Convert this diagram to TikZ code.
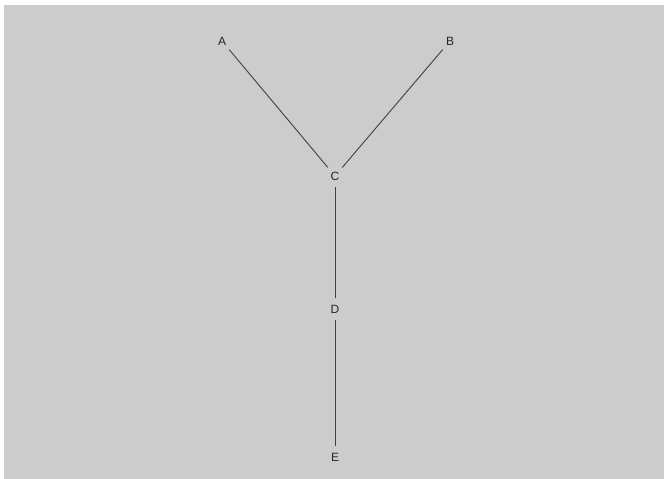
\documentclass[tikz,border=0pt]{standalone}
\usepackage{fontspec}
\setmainfont{Liberation Sans}
\begin{document}
\begin{tikzpicture}[x=1pt,y=-1pt,
  vertex/.style={circle,minimum size=22pt,inner sep=0pt,font=\fontsize{12}{14}\selectfont,text=black!85},
  edge/.style={draw=black!75,line width=0.9pt}]
\useasboundingbox (0,0) rectangle (664,479);
\fill[white] (0,0) rectangle (664,479);
\fill[black!20] (4,5) rectangle (664,479);
\node[vertex] (A) at (222,41) {A};
\node[vertex] (B) at (450,41) {B};
\node[vertex] (C) at (335,176) {C};
\node[vertex] (D) at (335,309) {D};
\node[vertex] (E) at (335,457) {E};
\draw[edge] (A) -- (C);
\draw[edge] (B) -- (C);
\draw[edge] (C) -- (D);
\draw[edge] (D) -- (E);
\end{tikzpicture}
\end{document}
